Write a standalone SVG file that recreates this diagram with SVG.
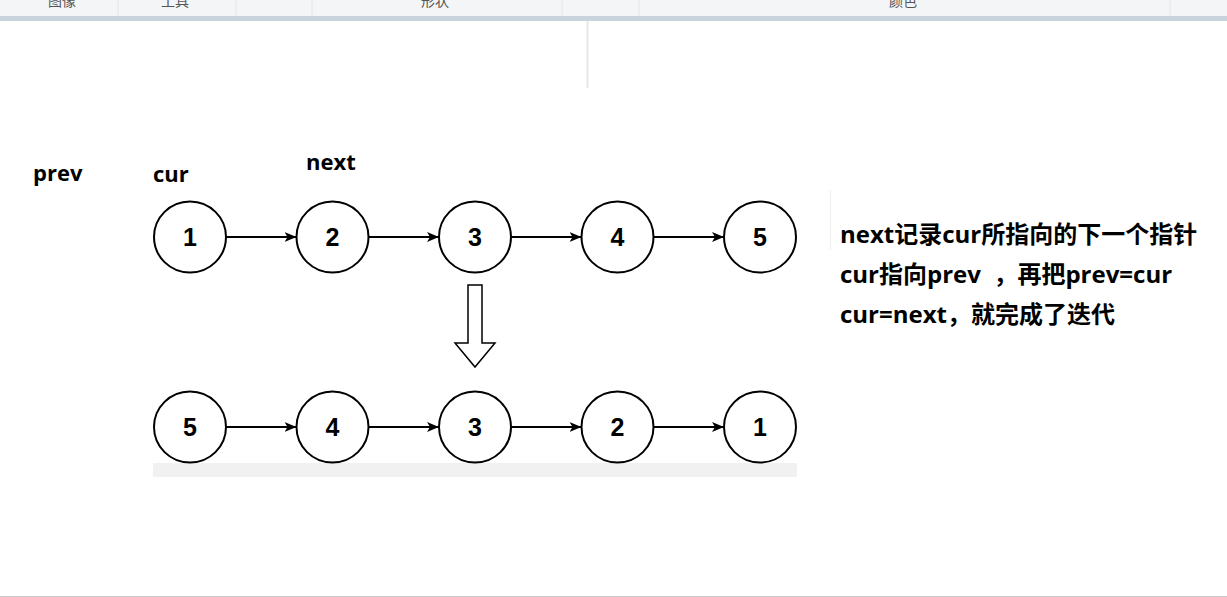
<svg xmlns="http://www.w3.org/2000/svg" width="1227" height="597" viewBox="0 0 1227 597">
<style>
.tb{font-family:"Noto Sans CJK SC","Noto Sans",sans-serif;font-size:14px;fill:#555;text-anchor:middle}
.sep{stroke:#e2e4e7;stroke-width:1}
.node{fill:#fff;stroke:#000;stroke-width:2}
.num{font-family:"Liberation Sans",Arial,sans-serif;font-weight:bold;font-size:25px;fill:#000;text-anchor:middle;dominant-baseline:central}
.lbl{font-family:"Open Sans","Noto Sans CJK SC",sans-serif;font-weight:bold;font-size:22px;fill:#000}
.note{font-family:"Open Sans","Noto Sans CJK SC",sans-serif;font-weight:bold;font-size:24px;fill:#000;white-space:pre}
.conn{stroke:#000;stroke-width:2;fill:none;marker-end:url(#arr)}
</style>
<defs>
<marker id="arr" markerUnits="userSpaceOnUse" viewBox="0 0 12 10" refX="12" refY="5" markerWidth="12" markerHeight="10" orient="auto">
<path d="M0,0 L12,5 L0,10 L3,5 Z" fill="#000"/>
</marker>
</defs>
<rect width="1227" height="597" fill="#fff"/>
<g id="toolbar">
<rect x="0" y="0" width="1227" height="16" fill="#f4f5f7"/>
<rect x="0" y="16" width="1227" height="5" fill="#c9d3de"/>
<line class="sep" x1="118" y1="0" x2="118" y2="16"/>
<line class="sep" x1="236" y1="0" x2="236" y2="16"/>
<line class="sep" x1="312" y1="0" x2="312" y2="16"/>
<line class="sep" x1="562" y1="0" x2="562" y2="16"/>
<line class="sep" x1="639" y1="0" x2="639" y2="16"/>
<line class="sep" x1="1170" y1="0" x2="1170" y2="16"/>
<text class="tb" x="62" y="6">图像</text>
<text class="tb" x="175" y="6">工具</text>
<text class="tb" x="435" y="6">形状</text>
<text class="tb" x="903" y="6">颜色</text>
</g>
<line x1="587.5" y1="21" x2="587.5" y2="88" stroke="#e6e6e6" stroke-width="2"/>
<line x1="830.5" y1="190" x2="830.5" y2="250" stroke="#eeeeee" stroke-width="1"/>
<rect x="153" y="463" width="644" height="14" fill="#f1f1f1"/>
<line x1="0" y1="596.5" x2="1227" y2="596.5" stroke="#c8c8c8" stroke-width="1"/>
<g id="labels">
<text class="lbl" x="33" y="181">prev</text>
<text class="lbl" x="153" y="182">cur</text>
<text class="lbl" x="306" y="170">next</text>
</g>
<g id="connectors">
<line class="conn" x1="226" y1="237" x2="296.5" y2="237"/>
<line class="conn" x1="368.5" y1="237" x2="439" y2="237"/>
<line class="conn" x1="511" y1="237" x2="581.5" y2="237"/>
<line class="conn" x1="653.5" y1="237" x2="724" y2="237"/>
<line class="conn" x1="226" y1="427" x2="296.5" y2="427"/>
<line class="conn" x1="368.5" y1="427" x2="439" y2="427"/>
<line class="conn" x1="511" y1="427" x2="581.5" y2="427"/>
<line class="conn" x1="653.5" y1="427" x2="724" y2="427"/>
</g>
<g id="t1"><ellipse class="node" cx="190" cy="237" rx="36" ry="35.5"/><text class="num" x="190" y="237">1</text></g>
<g id="t2"><ellipse class="node" cx="332.5" cy="237" rx="36" ry="35.5"/><text class="num" x="332.5" y="237">2</text></g>
<g id="t3"><ellipse class="node" cx="475" cy="237" rx="36" ry="35.5"/><text class="num" x="475" y="237">3</text></g>
<g id="t4"><ellipse class="node" cx="617.5" cy="237" rx="36" ry="35.5"/><text class="num" x="617.5" y="237">4</text></g>
<g id="t5"><ellipse class="node" cx="760" cy="237" rx="36" ry="35.5"/><text class="num" x="760" y="237">5</text></g>
<g id="down-arrow"><polygon points="468,285 482,285 482,343 495,343 475,367 455,343 468,343" fill="#fff" stroke="#000" stroke-width="1.5"/></g>
<g id="b1"><ellipse class="node" cx="190" cy="427" rx="36" ry="35.5"/><text class="num" x="190" y="427">5</text></g>
<g id="b2"><ellipse class="node" cx="332.5" cy="427" rx="36" ry="35.5"/><text class="num" x="332.5" y="427">4</text></g>
<g id="b3"><ellipse class="node" cx="475" cy="427" rx="36" ry="35.5"/><text class="num" x="475" y="427">3</text></g>
<g id="b4"><ellipse class="node" cx="617.5" cy="427" rx="36" ry="35.5"/><text class="num" x="617.5" y="427">2</text></g>
<g id="b5"><ellipse class="node" cx="760" cy="427" rx="36" ry="35.5"/><text class="num" x="760" y="427">1</text></g>
<g id="note">
<text class="note" x="840" y="243">next记录cur所指向的下一个指针</text>
<text class="note" x="840" y="283">cur指向prev  ，再把prev=cur</text>
<text class="note" x="840" y="323">cur=next，就完成了迭代</text>
</g>
</svg>
